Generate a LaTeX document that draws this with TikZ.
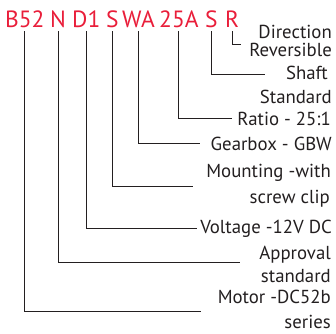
\documentclass[tikz,border=0pt]{standalone}
\usepackage{fontspec}
\setmainfont{PT Sans}
\definecolor{codered}{RGB}{233,30,58}
\definecolor{ink}{RGB}{35,31,32}
\begin{document}
\begin{tikzpicture}[x=1pt,y=-1pt,
  code/.style={text=codered, font=\fontsize{23.5}{23.5}\selectfont, inner xsep=0pt, inner ysep=4pt, anchor=base west},
  lbl/.style={text=ink, font=\fontsize{18.8}{18.8}\selectfont, inner sep=0pt, anchor=base east},
  conn/.style={draw=ink, line width=0.8pt}]
\useasboundingbox (0,0) rectangle (336,333);
% code parts
\node[code] (b52) at (5,27) {B52};
\node[code] (n)   at (50,27) {N};
\node[code] (d1)  at (72,27) {D1};
\node[code] (s1)  at (106,27) {S};
\node[code] (wa)  at (122,27) {WA};
\node[code] (a25) at (159,27) {25A};
\node[code] (s2)  at (205,27) {S};
\node[code] (r)   at (225,27) {R};
% labels
\node[lbl] (l1a) at (332,38) {Direction};
\node[lbl] (l1b) at (332,56) {Reversible};
\node[lbl] (l2a) at (328,79) {Shaft};
\node[lbl] (l2b) at (332,103) {Standard};
\node[lbl] (l3)  at (331,125) {Ratio - 25:1};
\node[lbl] (l4)  at (332,150) {Gearbox - GBW};
\node[lbl] (l5a) at (331,177) {Mounting -with};
\node[lbl] (l5b) at (330,203) {screw clip};
\node[lbl] (l6)  at (332,233) {Voltage -12V DC};
\node[lbl] (l7a) at (331,259) {Approval};
\node[lbl] (l7b) at (331,282) {standard};
\node[lbl] (l8a) at (331,303) {Motor -DC52b};
\node[lbl] (l8b) at (331,328) {series};
% connector ends
\coordinate (er)  at (241,44);
\coordinate (es2) at (265,74);
\coordinate (ea)  at (232,118);
\coordinate (ewa) at (200,143);
\coordinate (es1) at (193,186);
\coordinate (ed)  at (197,228);
\coordinate (en)  at (240,262);
\coordinate (eb)  at (201,311);
% connectors
\draw[conn] (r.south) |- (er);
\draw[conn] (s2.south) |- (es2);
\draw[conn] (a25.south) |- (ea);
\draw[conn] (wa.south) |- (ewa);
\draw[conn] (s1.south) |- (es1);
\draw[conn] (d1.south) |- (ed);
\draw[conn] (n.south) |- (en);
\draw[conn] (b52.south) |- (eb);
\end{tikzpicture}
\end{document}
